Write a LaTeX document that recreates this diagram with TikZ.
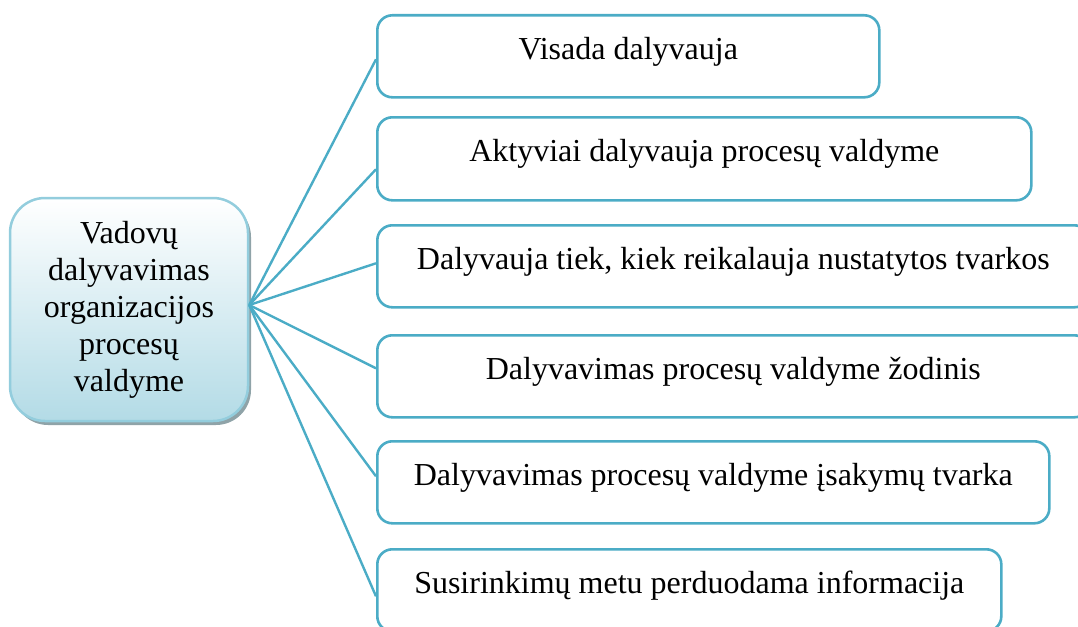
\documentclass[tikz,border=0pt]{standalone}
\usepackage{fontspec}
\setmainfont{Liberation Serif}
\usetikzlibrary{shadows}
\definecolor{aqua}{HTML}{4BACC6}
\definecolor{aqualight}{HTML}{93CDDD}
\definecolor{hubbottom}{HTML}{B3DBE6}
\definecolor{hubshadow}{HTML}{8FA3A8}
\begin{document}
\begin{tikzpicture}[x=1pt,y=-1pt,
  leaf/.style={draw=aqua, line width=2.6pt, rounded corners=15pt, fill=white,
    anchor=north west, inner sep=0pt, minimum height=82pt,
    text height=22pt, text depth=16pt, font=\fontsize{32}{37}\selectfont},
  hub/.style={draw=aqualight, line width=2.5pt, rounded corners=35pt,
    top color=white, bottom color=hubbottom,
    minimum width=238pt, minimum height=223pt, inner sep=0pt,
    align=center, font=\fontsize{32}{37}\selectfont,
    drop shadow={shadow xshift=3pt, shadow yshift=-4pt, fill=hubshadow, opacity=1}},
  link/.style={draw=aqua, line width=2.4pt},
]
\useasboundingbox (0,0) rectangle (1078,626);

% central topic
\node[hub] (lb) at (129,309.5) {Vadovų\\dalyvavimas\\organizacijos\\procesų\\valdyme};

% branches
\node[leaf, minimum width=502pt] (b1) at (376,14)  {Visada dalyvauja};
\node[leaf, minimum width=654pt, minimum height=83pt] (b2) at (376,116) {Aktyviai dalyvauja procesų valdyme};
\node[leaf, minimum width=712pt] (b3) at (376,224) {Dalyvauja tiek, kiek reikalauja nustatytos tvarkos};
\node[leaf, minimum width=712pt] (b4) at (376,334) {Dalyvavimas procesų valdyme žodinis};
\node[leaf, minimum width=672pt] (b5) at (376,440) {Dalyvavimas procesų valdyme įsakymų tvarka};
\node[leaf, minimum width=624pt] (b6) at (376,548) {Susirinkimų metu perduodama informacija};

% connectors from the central topic
\coordinate (hubpt) at ([yshift=4.5pt]lb.east);
\draw[link] (hubpt) -- ([yshift=-3pt]b1.west);
\draw[link] (hubpt) -- ([yshift=-10.5pt]b2.west);
\draw[link] (hubpt) -- ([yshift=3pt]b3.west);
\draw[link] (hubpt) -- ([yshift=8pt]b4.west);
\draw[link] (hubpt) -- ([yshift=6pt]b5.west);
\draw[link] (hubpt) -- ([yshift=-6pt]b6.west);
\end{tikzpicture}
\end{document}
